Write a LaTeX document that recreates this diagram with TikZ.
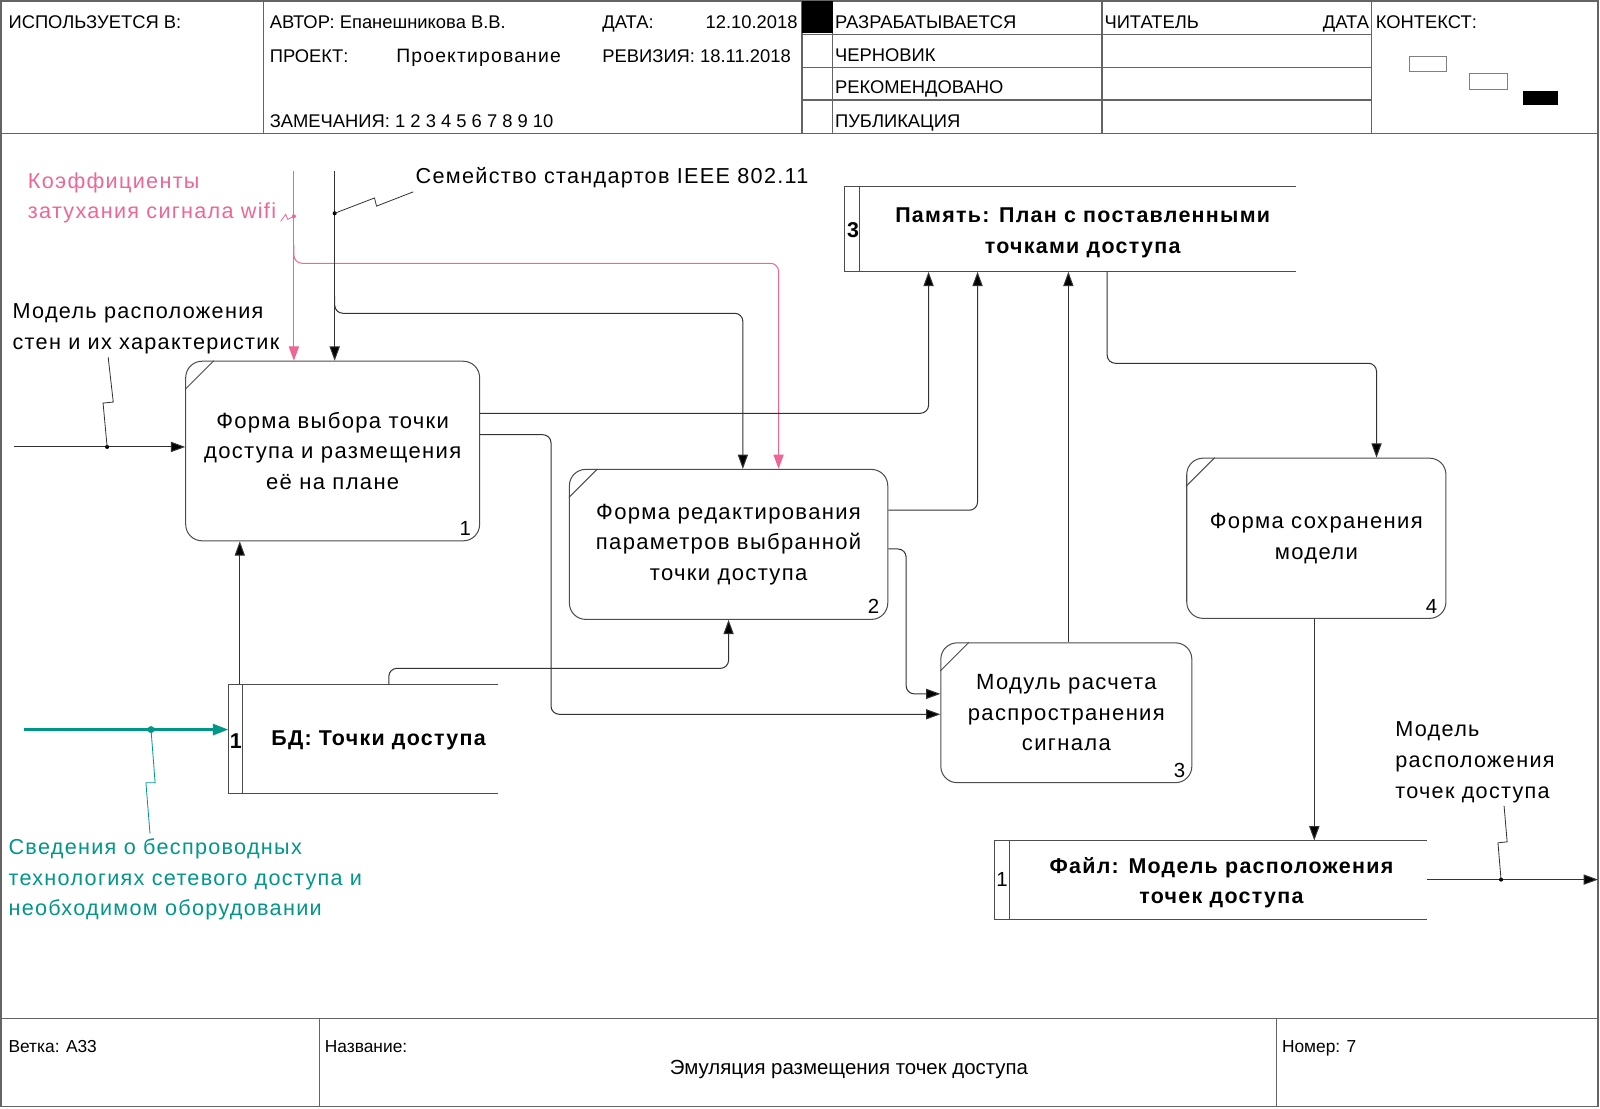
\documentclass[tikz,border=0pt]{standalone}
\usepackage{fontspec}
\setmainfont{Liberation Sans}
\newfontfamily\lsp[LetterSpace=6]{Liberation Sans}
\usetikzlibrary{arrows.meta}
\definecolor{pinkc}{RGB}{238,102,150}
\definecolor{tealc}{RGB}{0,150,136}
\definecolor{framec}{RGB}{100,100,100}
\begin{document}
\begin{tikzpicture}[x=0.5pt,y=-0.5pt,
  frame/.style={draw=framec, line width=0.6pt},
  hdr/.style={anchor=base west, inner sep=0pt, font=\fontsize{9}{11}\selectfont},
  hdre/.style={hdr, anchor=base east},
  proc/.style={draw=black!70, line width=0.5pt, rounded corners=8pt, align=center, inner sep=0pt, font=\lsp\fontsize{10.8}{15}\selectfont},
  pnum/.style={inner sep=0pt, font=\fontsize{10}{12}\selectfont},
  snum/.style={inner sep=0pt, font=\bfseries\fontsize{10.5}{12}\selectfont},
  storetxt/.style={align=center, inner sep=0pt, font=\lsp\bfseries\fontsize{10.5}{15}\selectfont},
  storebox/.style={inner sep=0pt},
  storeline/.style={draw=black!70, line width=0.5pt},
  lbl/.style={anchor=west, align=left, inner sep=0pt, font=\lsp\fontsize{10.6}{15}\selectfont},
  conn/.style={draw=black!80, line width=0.5pt, rounded corners=4pt},
  tip/.style={-{Triangle[length=7pt,width=5pt,fill=black]}},
  arr/.style={conn, tip},
  pinkline/.style={draw=pinkc, line width=0.5pt, rounded corners=4pt},
  pinkarr/.style={pinkline, -{Triangle[length=7pt,width=5pt]}},
  tealarr/.style={draw=tealc, line width=1.2pt, -{Triangle[length=7.5pt,width=5.5pt]}},
  squig/.style={draw=black!80, line width=0.4pt},
]
\useasboundingbox (0,0) rectangle (1568,1086);
% ---------- frame and header ----------
\draw[frame] (1,1) rectangle (1566,1084);
\draw[frame] (1,131) -- (1566,131);
\foreach \xx in {258,786,816,1080,1344} \draw[frame] (\xx,1) -- (\xx,131);
\foreach \yy in {34,66,98} \draw[frame] (786,\yy) -- (1344,\yy);
\fill[black] (786,1) rectangle (816,32);
\node[hdr] (h1) at (8,28) {ИСПОЛЬЗУЕТСЯ В:};
\node[hdr] (h2) at (264,28) {АВТОР: Епанешникова В.В.};
\node[hdr] (h3) at (590,28) {ДАТА:};
\node[hdre] (h4) at (782,28) {12.10.2018};
\node[hdr] (h5) at (264,61) {ПРОЕКТ:};
\node[hdr, font=\lsp\fontsize{9.5}{11}\selectfont] (h6) at (388,61) {Проектирование};
\node[hdr] (h7) at (590,61) {РЕВИЗИЯ: 18.11.2018};
\node[hdr] (h8) at (264,125) {ЗАМЕЧАНИЯ: 1 2 3 4 5 6 7 8 9 10};
\node[hdr] (h9) at (818,28) {РАЗРАБАТЫВАЕТСЯ};
\node[hdr] (h10) at (818,60) {ЧЕРНОВИК};
\node[hdr] (h11) at (818,92) {РЕКОМЕНДОВАНО};
\node[hdr] (h12) at (818,125) {ПУБЛИКАЦИЯ};
\node[hdr] (h13) at (1082,28) {ЧИТАТЕЛЬ};
\node[hdre] (h14) at (1342,28) {ДАТА};
\node[hdr] (h15) at (1348,28) {КОНТЕКСТ:};
\draw[draw=black!50, line width=0.5pt] (1381,55) rectangle (1418,70);
\draw[draw=black!50, line width=0.5pt] (1440,72) rectangle (1477,88);
\fill[black] (1493,89) rectangle (1527,103);
% ---------- footer ----------
\draw[frame] (1,998) -- (1566,998);
\draw[frame] (313,998) -- (313,1084);
\draw[frame] (1251,998) -- (1251,1084);
\node[hdr, font=\fontsize{8.5}{10}\selectfont] (f1) at (8,1031) {Ветка: А33};
\node[hdr, font=\fontsize{8.5}{10}\selectfont] (f2) at (318,1031) {Название:};
\node[hdr, font=\fontsize{8.5}{10}\selectfont] (f3) at (1256,1031) {Номер: 7};
\node[inner sep=0pt, anchor=base, font=\fontsize{10}{11}\selectfont] (f4) at (832,1053) {Эмуляция размещения точек доступа};
% ---------- processes ----------
\node[proc, minimum width=144pt, minimum height=88pt] (box1) at (326,442) {Форма выбора точки\\доступа и размещения\\её на плане};
\node[proc, minimum width=156pt, minimum height=73.5pt] (box2) at (714,533.5) {Форма редактирования\\параметров выбранной\\точки доступа};
\node[proc, minimum width=123pt, minimum height=68.5pt] (box3) at (1045,698.5) {Модуль расчета\\распространения\\сигнала};
\node[proc, minimum width=127pt, minimum height=78.5pt] (box4) at (1290,527.5) {Форма сохранения\\модели};
\foreach \b in {box1,box2,box3,box4}
  \draw[draw=black!70, line width=0.5pt] ([yshift=-14pt]\b.north west) -- ([xshift=14pt]\b.north west);
\node[pnum] (n1) at (456,518) {1};
\node[pnum] (n2) at (856,594) {2};
\node[pnum] (n3) at (1156,755) {3};
\node[pnum] (n4) at (1403,594) {4};
% ---------- stores ----------
\node[storebox, minimum width=132pt, minimum height=53pt] (bd) at (356,724) {};
\node[storebox, minimum width=221pt, minimum height=41.5pt] (mem) at (1049,224.5) {};
\node[storebox, minimum width=211.5pt, minimum height=38.5pt] (file) at (1186.5,862.5) {};
\foreach \s/\w in {bd/7pt,mem/7.5pt,file/7.5pt} {
  \draw[storeline] (\s.north east) -- (\s.north west) -- (\s.south west) -- (\s.south east);
  \draw[storeline] ([xshift=\w]\s.north west) -- ([xshift=\w]\s.south west);
}
\node[snum] (bdn) at (231,726) {1};
\node[storetxt] (bdt) at (371,726) {БД: Точки доступа};
\node[snum] (memn) at (836,226) {3};
\node[storetxt] (memt) at (1061,228) {Память: План с поставленными\\точками доступа};
\node[pnum] (filen) at (982,862) {1};
\node[storetxt] (filet) at (1197,865) {Файл: Модель расположения\\точек доступа};
% ---------- labels ----------
\node[lbl, text=pinkc] (pinklbl) at (27,194) {Коэффициенты\\затухания сигнала wifi};
\node[lbl] (walllbl) at (12,322) {Модель расположения\\стен и их характеристик};
\node[lbl] (stdlbl) at (407,174) {Семейство стандартов IEEE 802.11};
\node[lbl, text=tealc] (techlbl) at (8,862) {Сведения о беспроводных\\технологиях сетевого доступа и\\необходимом оборудовании};
\node[lbl] (outlbl) at (1367,747) {Модель\\расположения\\точек доступа};
% ---------- connectors ----------
\coordinate (wallsrc) at (14,438);
\coordinate (pinksrc) at (288,168);
\coordinate (stdsrc) at (328,168);
\coordinate (techsrc) at (24,715);
\coordinate (outend) at (1566,862);
% walls input
\draw[arr] (wallsrc) -- (box1.west |- 0,438);
\fill[black] (105,438) circle (1pt);
\draw[squig] (105,438) -- (101,395) -- (111,394) -- (106,350);
% pink input
\draw[pinkarr] (pinksrc) -- (box1.north -| 288,0);
\draw[pinkarr] (288,240) -- (288,258) -- (763,258) -- (box2.north -| 763,0);
\fill[pinkc] (288,212) circle (1pt);
\draw[draw=pinkc, line width=0.4pt] (275,217) -- (280,210) -- (282,215) -- (288,212);
% standards input
\draw[arr] (stdsrc) -- (box1.north -| 328,0);
\draw[arr] (328,290) -- (328,307) -- (728,307) -- (box2.north -| 728,0);
\fill[black] (328,209) circle (1pt);
\draw[squig] (328,209) -- (367,194) -- (369,202) -- (405,188);
% box1 outputs
\draw[arr] (box1.east |- 0,405) -- (910,405) -- (mem.south -| 910,0);
\draw[arr] (box1.east |- 0,426) -- (540,426) -- (540,700) -- (box3.west |- 0,700);
% box2 outputs
\draw[arr] (box2.east |- 0,500) -- (958,500) -- (mem.south -| 958,0);
\draw[arr] (box2.east |- 0,538) -- (888,538) -- (888,680) -- (box3.west |- 0,680);
% box3 output
\draw[arr] (box3.north -| 1047,0) -- (mem.south -| 1047,0);
% memory to box4
\draw[arr] (mem.south -| 1085,0) -- (1085,356) -- (1349,356) -- (box4.north -| 1349,0);
% box4 to file
\draw[arr] (box4.south -| 1288,0) -- (file.north -| 1288,0);
% file output
\draw[arr] (file.east |- 0,862) -- (outend);
\fill[black] (1471,862) circle (1pt);
\draw[squig] (1471,862) -- (1468,826) -- (1477,825) -- (1474,790);
% DB outputs
\draw[arr] (bd.north -| 235,0) -- (box1.south -| 235,0);
\draw[arr] (bd.north -| 381,0) -- (381,655) -- (714,655) -- (box2.south -| 714,0);
% teal input
\draw[tealarr] (techsrc) -- (bd.west |- 0,715);
\fill[tealc] (148,715) circle (1.7pt);
\draw[draw=tealc, line width=0.4pt] (148,715) -- (152,767) -- (143,767) -- (147,817);
\end{tikzpicture}
\end{document}
